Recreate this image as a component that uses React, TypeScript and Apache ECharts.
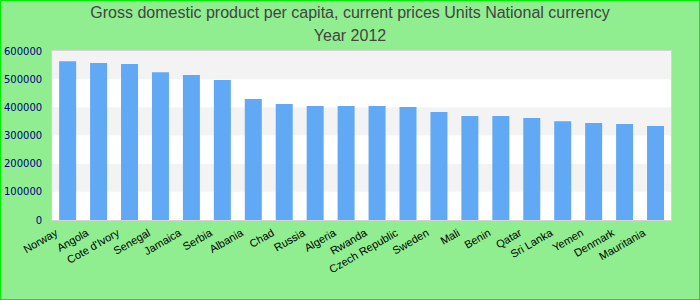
import React, { useEffect, useRef } from "react";
import * as echarts from "echarts";

const titleLine1 = "Gross domestic product per capita, current prices Units National currency";
const titleLine2 = "Year 2012";

const countries = [
  "Norway", "Angola", "Cote d'Ivory", "Senegal", "Jamaica", "Serbia", "Albania", "Chad",
  "Russia", "Algeria", "Rwanda", "Czech Republic", "Sweden", "Mali", "Benin", "Qatar",
  "Sri Lanka", "Yemen", "Denmark", "Mauritania",
];

const gdpValues = [
  564000, 557000, 554000, 525000, 515000, 497000, 430000, 412000,
  405000, 405000, 405000, 401000, 383000, 369000, 369000, 362000,
  351000, 344000, 341000, 334000,
];

const yTicks = [0, 100000, 200000, 300000, 400000, 500000, 600000];

export default function App() {
  const ref = useRef<HTMLDivElement>(null);

  useEffect(() => {
    if (!ref.current) return;
    const chart = echarts.init(ref.current, undefined, { renderer: "svg" });
    chart.setOption({
      animation: false,
      backgroundColor: "#90ee90",
      title: {
        text: titleLine1 + "\n" + titleLine2,
        left: "center",
        top: 0,
        padding: 0,
        textStyle: {
          fontFamily: "Liberation Sans, Arial, sans-serif",
          fontSize: 16,
          fontWeight: "normal",
          color: "#444444",
          lineHeight: 23,
        },
      },
      grid: {
        left: 49,
        right: 28,
        top: 50,
        bottom: 79,
        show: true,
        borderColor: "#d4d4d4",
        borderWidth: 2,
        backgroundColor: "#ffffff",
      },
      xAxis: {
        type: "category",
        data: countries,
        axisLine: { show: false },
        axisTick: { show: false },
        axisLabel: {
          rotate: 30,
          interval: 0,
          margin: 5,
          color: "#000000",
          fontSize: 11,
          fontFamily: "Liberation Sans, Arial, sans-serif",
          padding: [0, 13, 0, 0],
        },
      },
      yAxis: {
        type: "value",
        min: yTicks[0],
        max: yTicks[yTicks.length - 1],
        interval: 100000,
        axisLine: { show: false },
        axisTick: { show: false },
        splitLine: { show: false },
        splitArea: { show: true, areaStyle: { color: ["#ffffff", "#f3f3f3"] } },
        axisLabel: {
          margin: 10,
          color: "#000080",
          fontSize: 10,
          fontFamily: "DejaVu Sans, sans-serif",
          formatter: (v: number) => String(v),
        },
      },
      series: [
        {
          type: "bar",
          data: gdpValues,
          barWidth: 17,
          itemStyle: { color: "#62a9f5" },
        },
      ],
    });
    return () => chart.dispose();
  }, []);

  return (
    <div
      style={{
        position: "fixed",
        left: 0,
        top: 0,
        width: 700,
        height: 300,
        boxSizing: "border-box",
        border: "1px solid #00ee00",
        background: "#90ee90",
      }}
    >
      <div ref={ref} style={{ width: 698, height: 298 }} />
    </div>
  );
}
